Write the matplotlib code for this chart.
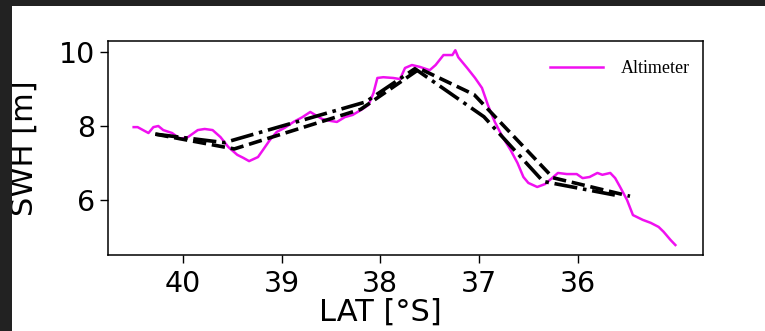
import matplotlib
matplotlib.use("Agg")
import matplotlib.pyplot as plt
from matplotlib.patches import Rectangle

# ------------------------------------------
# Altimeter track (SWH along latitude)
# ------------------------------------------
alt_lat = [40.50, 40.46, 40.35, 40.30, 40.25, 40.20, 40.11, 40.03, 39.95, 39.85,
           39.78, 39.70, 39.62, 39.54, 39.45, 39.39, 39.33, 39.24, 39.19, 39.12,
           39.05, 38.97, 38.88, 38.79, 38.71, 38.66, 38.59, 38.51, 38.44, 38.36,
           38.28, 38.18, 38.12, 38.07, 38.03, 37.97, 37.87, 37.80, 37.75, 37.68,
           37.60, 37.50, 37.44, 37.36, 37.27, 37.24, 37.21, 37.12, 37.04, 36.97,
           36.91, 36.84, 36.76, 36.68, 36.61, 36.55, 36.50, 36.41, 36.33, 36.26,
           36.20, 36.11, 36.01, 35.95, 35.88, 35.80, 35.75, 35.67, 35.62, 35.57,
           35.50, 35.44, 35.34, 35.26, 35.18, 35.13, 35.06, 35.01]
alt_swh = [7.97, 7.97, 7.81, 7.97, 8.00, 7.89, 7.81, 7.65, 7.70, 7.89,
           7.92, 7.89, 7.70, 7.43, 7.22, 7.14, 7.05, 7.16, 7.35, 7.62,
           7.84, 7.95, 8.11, 8.24, 8.38, 8.30, 8.19, 8.14, 8.11, 8.24,
           8.30, 8.46, 8.57, 8.89, 9.30, 9.32, 9.30, 9.27, 9.57, 9.65,
           9.60, 9.51, 9.65, 9.92, 9.92, 10.05, 9.86, 9.57, 9.30, 9.03,
           8.57, 8.11, 7.70, 7.35, 7.00, 6.62, 6.46, 6.35, 6.43, 6.59,
           6.73, 6.70, 6.70, 6.59, 6.62, 6.73, 6.68, 6.73, 6.59, 6.35,
           6.00, 5.59, 5.46, 5.38, 5.27, 5.14, 4.92, 4.78]

# ------------------------------------------
# Model runs (coarse grid)
# ------------------------------------------
run1_lat = [40.28, 39.48, 38.20, 37.60, 37.05, 36.25, 35.47]
run1_swh = [7.78, 7.38, 8.45, 9.55, 8.85, 6.60, 6.10]

run2_lat = [40.28, 39.58, 38.15, 37.65, 36.95, 36.35, 35.60]
run2_swh = [7.78, 7.55, 8.65, 9.55, 8.25, 6.50, 6.12]

xticks = [40, 39, 38, 37, 36]
yticks = [6, 8, 10]

fig = plt.figure(figsize=(7.65, 3.31), dpi=100, facecolor="white")
# dark frame on the top and left edges
fig.patches.append(Rectangle((0, 0), 12 / 765, 1, transform=fig.transFigure,
                             facecolor="#222222", edgecolor="none"))
fig.patches.append(Rectangle((0, 1 - 6 / 331), 1, 6 / 331, transform=fig.transFigure,
                             facecolor="#222222", edgecolor="none"))

ax = fig.add_axes([108 / 765, 76 / 331, 595 / 765, 214 / 331])
ax.plot(alt_lat, alt_swh, color="#f010f0", linewidth=1.8, label="Altimeter")
ax.plot(run1_lat, run1_swh, color="black", linewidth=2.6, linestyle="--")
ax.plot(run2_lat, run2_swh, color="black", linewidth=2.6, linestyle="-.")

ax.set_xlim(40.76, 34.73)
ax.set_ylim(4.51, 10.30)
ax.set_xticks(xticks)
ax.set_yticks(yticks)
ax.tick_params(labelsize=20.5, length=5.5, width=1)
ax.tick_params(axis="x", pad=5)
ax.tick_params(axis="y", pad=4)
for s in ax.spines.values():
    s.set_linewidth(1.1)

ax.set_xlabel("LAT [°S]", fontsize=22)
ax.set_ylabel("SWH [m]", fontsize=22)
ax.xaxis.set_label_coords((380 - 108) / 595, -0.2)
ax.yaxis.set_label_coords(-0.117, 0.5)

ax.legend(loc="upper right", frameon=False, prop={"family": "Liberation Serif", "size": 13},
          handlelength=2.9, handletextpad=1.0, bbox_to_anchor=(1.005, 0.985))

plt.savefig("out.png", dpi=100)
plt.close()
